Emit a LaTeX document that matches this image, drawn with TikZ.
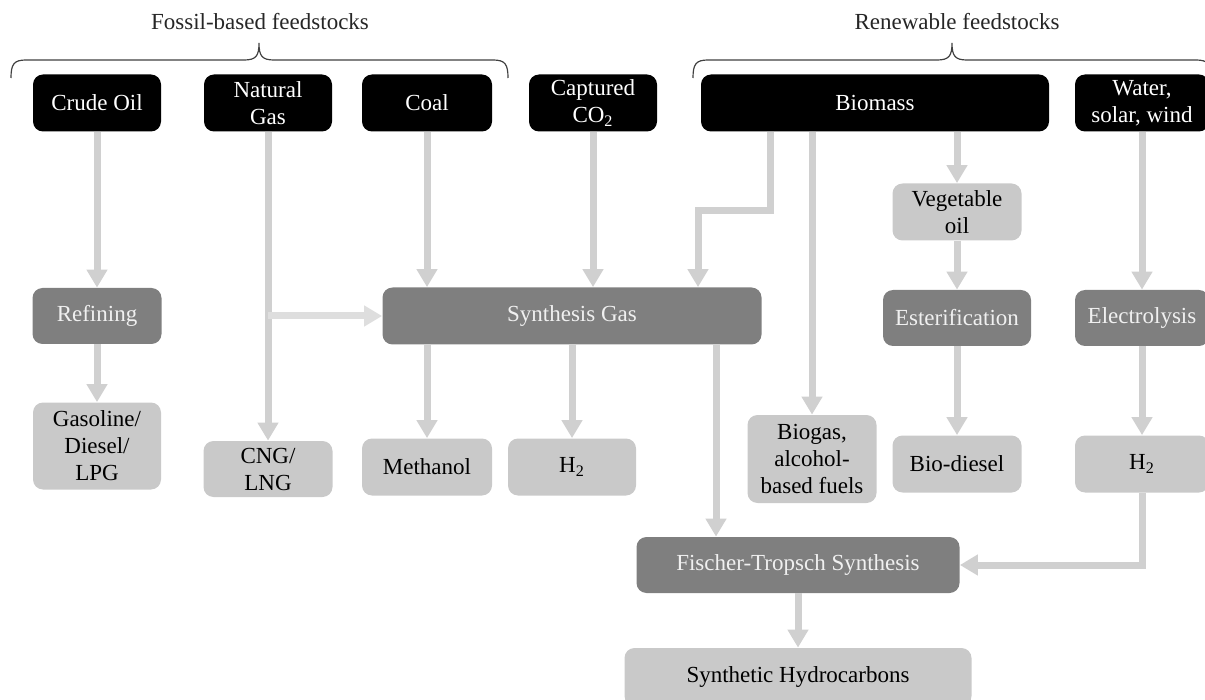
\documentclass[tikz,border=0pt]{standalone}
\usepackage{fontspec}
\setmainfont{Liberation Serif}
\usetikzlibrary{arrows.meta,positioning,calc}
\definecolor{boxdark}{HTML}{7F7F7F}
\definecolor{boxlight}{HTML}{C9C9C9}
\definecolor{arrowgray}{HTML}{D0D0D0}
\definecolor{trunkgray}{HTML}{DEDEDE}
\definecolor{bracegray}{HTML}{404040}
\tikzset{
  feed/.style={fill=black, text=white, rounded corners=5pt, align=center, inner sep=0pt,
    font=\fontsize{11.5}{13.5}\selectfont},
  proc/.style={feed, fill=boxdark, text=white!94!black},
  prod/.style={feed, fill=boxlight, text=black},
  flow/.style={draw=arrowgray, line width=3.5pt, -{Triangle[width=10pt,length=9pt]}},
  brace/.style={draw=bracegray, line width=0.6pt},
  group/.style={text=black!85, font=\fontsize{11.5}{13.5}\selectfont},
}

\begin{document}
\begin{tikzpicture}[x=0.5pt,y=-0.5pt]
      \useasboundingbox (0,0) rectangle (1205,700);
      \clip (0,0) rectangle (1205,700);

      % feedstock groups
      \node[group] at (260,22) (fossil) {Fossil-based feedstocks};
      \node[group] at (957,22) (renew) {Renewable feedstocks};
      \draw[brace] (11,78) .. controls (11,64) and (14,60) .. (26,60) -- (244,60)
        .. controls (256,60) and (259,56) .. (259,43)
        .. controls (259,56) and (262,60) .. (274,60) -- (493,60)
        .. controls (505,60) and (508,64) .. (508,78);
      \draw[brace] (693,78) .. controls (693,64) and (696,60) .. (708,60) -- (937,60)
        .. controls (949,60) and (952,56) .. (952,43)
        .. controls (952,56) and (955,60) .. (967,60) -- (1196,60)
        .. controls (1208,60) and (1211,64) .. (1211,78);

      % feedstocks
      \node[feed, minimum width=64pt, minimum height=28.5pt] at (97,103) (crude) {Crude Oil};
      \node[feed, minimum width=64pt, minimum height=28.5pt] at (268,103) (ngas) {Natural\\Gas};
      \node[feed, minimum width=65pt, minimum height=28.5pt] at (427,103) (coal) {Coal};
      \node[feed, minimum width=64pt, minimum height=28.5pt] at (593,103) (co2) {Captured\\CO\textsubscript{2}};
      \node[feed, minimum width=174pt, minimum height=28.5pt] at (875,103) (biomass) {Biomass};
      \node[feed, minimum width=67pt, minimum height=28.5pt] at (1142,103) (water) {Water,\\solar, wind};

      % processes
      \node[proc, minimum width=64.5pt, minimum height=28pt] at (97,316) (refining) {Refining};
      \node[proc, minimum width=189.5pt, minimum height=28.5pt] at (572,316) (syngas) {Synthesis Gas};
      \node[prod, minimum width=64.5pt, minimum height=28.5pt] at (957,212) (vegoil) {Vegetable\\oil};
      \node[proc, minimum width=74pt, minimum height=28pt] at (957,318) (ester) {Esterification};
      \node[proc, minimum width=67pt, minimum height=28pt] at (1142,318) (electro) {Electrolysis};
      \node[proc, minimum width=161.5pt, minimum height=28pt] at (798,565) (ft) {Fischer-Tropsch Synthesis};

      % products
      \node[prod, minimum width=64pt, minimum height=43.5pt] at (97,446) (gasoline) {Gasoline/\\Diesel/\\LPG};
      \node[prod, minimum width=64.5pt, minimum height=28pt] at (268,469) (cng) {CNG/\\LNG};
      \node[prod, minimum width=65pt, minimum height=28.5pt] at (427,467) (methanol) {Methanol};
      \node[prod, minimum width=64pt, minimum height=28.5pt] at (572,467) (h2a) {H\textsubscript{2}};
      \node[prod, minimum width=64.5pt, minimum height=44pt] at (812,459) (biogas) {Biogas,\\alcohol-\\based fuels};
      \node[prod, minimum width=64.5pt, minimum height=28.5pt] at (957,464) (biodiesel) {Bio-diesel};
      \node[prod, minimum width=67pt, minimum height=28.5pt] at (1142,464) (h2b) {H\textsubscript{2}};
      \node[prod, minimum width=173.5pt, minimum height=29pt] at (798,677) (synhc) {Synthetic Hydrocarbons};

      % fossil flows
      \draw[flow] (crude) -- (refining);
      \draw[flow] (refining) -- (gasoline);
      \coordinate (ngsplit) at (ngas |- syngas.west);
      \draw[flow] (ngas) -- (cng);
      \draw[flow, draw=trunkgray] (ngsplit) -- (syngas.west);
      \draw[flow] (coal) -- (coal |- syngas.north);
      \draw[flow] (co2) -- (co2 |- syngas.north);

      % biomass flows
      \coordinate (bmA) at (770,132);
      \coordinate (bmB) at (698,211);
      \draw[flow] (bmA) |- (bmB) -- (bmB |- syngas.north);
      \draw[flow] (biomass.south -| biogas) -- (biogas);
      \draw[flow] (biomass.south -| vegoil) -- (vegoil);
      \draw[flow] (vegoil) -- (ester);
      \draw[flow] (ester) -- (biodiesel);

      % water flows
      \draw[flow] (water) -- (electro);
      \draw[flow] (electro) -- (h2b);
      \draw[flow] (h2b) |- (ft);

      % synthesis gas flows
      \draw[flow] (syngas.south -| methanol) -- (methanol);
      \draw[flow] (syngas) -- (h2a);
      \coordinate (sgleg) at (716,345);
      \draw[flow] (sgleg) -- (sgleg |- ft.north);
      \draw[flow] (ft) -- (synhc);
    \end{tikzpicture}
\end{document}
